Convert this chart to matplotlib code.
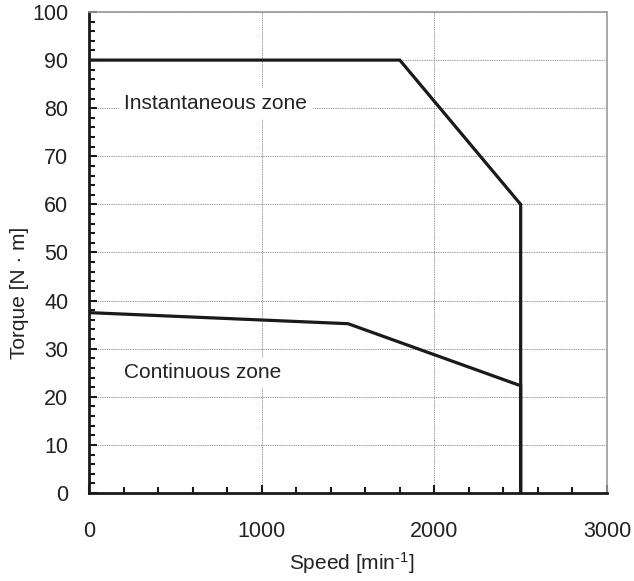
import matplotlib
matplotlib.use("Agg")
import matplotlib.pyplot as plt
from matplotlib.ticker import MultipleLocator

plt.rcParams['font.family'] = ['Liberation Sans', 'DejaVu Sans']
plt.rcParams['mathtext.fontset'] = 'custom'
plt.rcParams['mathtext.rm'] = 'Liberation Sans'
plt.rcParams['mathtext.it'] = 'Liberation Sans'
plt.rcParams['mathtext.default'] = 'regular'

inst_speed = [0, 1800, 2500, 2500]
inst_torque = [90, 90, 60, 0]
cont_speed = [0, 1500, 2500, 2500]
cont_torque = [37.5, 35.2, 22.3, 0]

x_ticks = [0, 1000, 2000, 3000]
y_ticks = list(range(0, 101, 10))

TXT = '#222222'

fig = plt.figure(figsize=(6.34, 5.81), dpi=100)
ax = fig.add_axes([89/634, 1 - 493/581, (607-89)/634, (493-12)/581])

ax.set_xlim(0, 3000)
ax.set_ylim(0, 100)
ax.set_xticks(x_ticks)
ax.set_yticks(y_ticks)
ax.xaxis.set_minor_locator(MultipleLocator(200))
ax.yaxis.set_minor_locator(MultipleLocator(2))

ax.grid(True, which='major', color='#909090', linestyle=(0, (1, 0.8)), linewidth=0.7)
ax.set_axisbelow(True)

ax.plot(inst_speed, inst_torque, color='#1a1a1a', lw=2.3, solid_joinstyle='miter', zorder=3)
ax.plot(cont_speed, cont_torque, color='#1a1a1a', lw=2.3, solid_joinstyle='miter', zorder=3)

for s in ['left', 'bottom']:
    ax.spines[s].set_color('#1a1a1a')
    ax.spines[s].set_linewidth(2.0)
for s in ['top', 'right']:
    ax.spines[s].set_color('#999999')
    ax.spines[s].set_linewidth(1.2)

ax.tick_params(which='both', direction='in', color='#1a1a1a', top=False, right=False,
               labelcolor=TXT)
ax.tick_params(which='major', length=6, width=1.5, labelsize=15.5)
ax.tick_params(which='minor', length=4, width=1.5)
ax.tick_params(axis='y', which='major', pad=15)
ax.tick_params(axis='x', which='major', pad=20)

ax.text(205, 81, 'Instantaneous zone', fontsize=15, va='center', ha='left',
        color=TXT, bbox=dict(facecolor='white', edgecolor='none', pad=4), zorder=2)
ax.text(205, 25, 'Continuous zone', fontsize=15, va='center', ha='left',
        color=TXT, bbox=dict(facecolor='white', edgecolor='none', pad=4), zorder=2)

fig.text(352/634, 1 - 563/581, r'Speed [min$^{\text{-1}}$]', fontsize=15, ha='center', va='center', color=TXT)
fig.text(20/634, 1 - 293/581, 'Torque [N · m]', fontsize=15, ha='center', va='center',
         rotation=90, color=TXT)

fig.savefig('out.png', dpi=100)
